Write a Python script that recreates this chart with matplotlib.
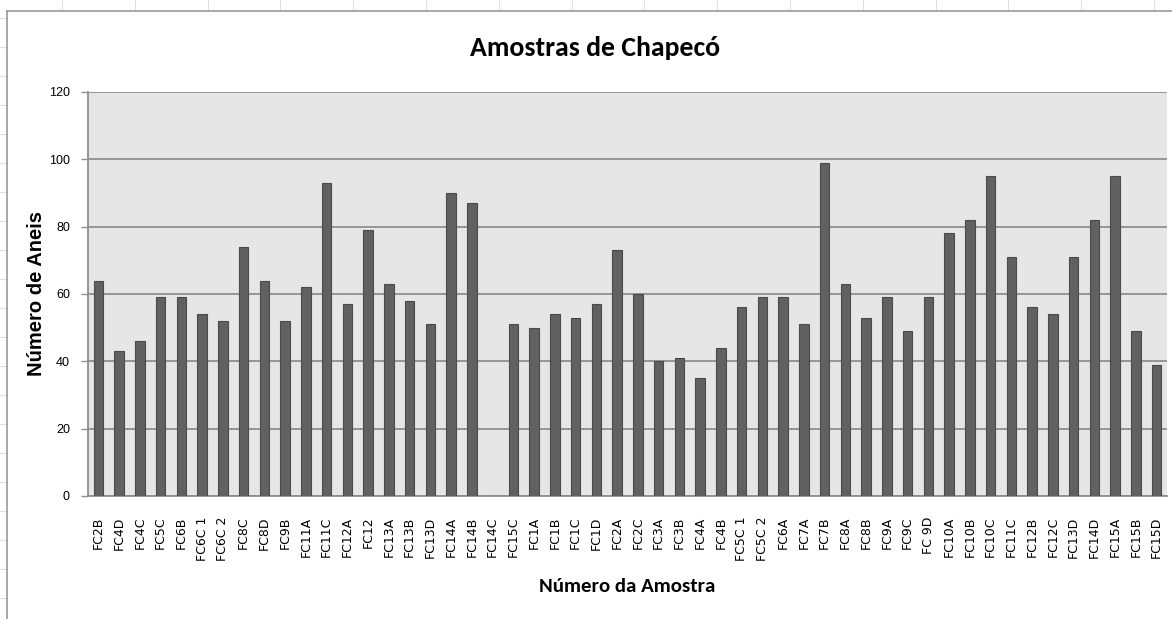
import numpy as np
import matplotlib
matplotlib.use("Agg")
import matplotlib.pyplot as plt
from matplotlib.lines import Line2D

# =============================================================================

samples = ["FC2B", "FC4D", "FC4C", "FC5C", "FC6B", "FC6C 1", "FC6C 2", "FC8C",
           "FC8D", "FC9B", "FC11A", "FC11C", "FC12A", "FC12", "FC13A", "FC13B",
           "FC13D", "FC14A", "FC14B", "FC14C", "FC15C", "FC1A", "FC1B", "FC1C",
           "FC1D", "FC2A", "FC2C", "FC3A", "FC3B", "FC4A", "FC4B", "FC5C 1",
           "FC5C 2", "FC6A", "FC7A", "FC7B", "FC8A", "FC8B", "FC9A", "FC9C",
           "FC 9D", "FC10A", "FC10B", "FC10C", "FC11C", "FC12B", "FC12C",
           "FC13D", "FC14D", "FC15A", "FC15B", "FC15D"]

rings = [64, 43, 46, 59, 59, 54, 52, 74,
         64, 52, 62, 93, 57, 79, 63, 58,
         51, 90, 87, 0, 51, 50, 54, 53,
         57, 73, 60, 40, 41, 35, 44, 56,
         59, 59, 51, 99, 63, 53, 59, 49,
         59, 78, 82, 95, 71, 56, 54,
         71, 82, 95, 49, 39]

yticks = [0, 20, 40, 60, 80, 100, 120]

# =============================================================================

W, H = 1172, 619
fig = plt.figure(figsize=(W / 100, H / 100), dpi=100)

narrow = ["Carlito", "Liberation Sans Narrow", "Archivo Narrow", "Liberation Sans"]
arial = ["Liberation Sans", "DejaVu Sans"]

# faint spreadsheet cell lines and chart frame
for xp in np.arange(62, W, 72.8):
    fig.add_artist(Line2D([xp / W, xp / W], [1, 1 - 11 / H],
                          color="#e0e0e0", lw=0.8))
for yp in np.arange(18, H, 29):
    fig.add_artist(Line2D([0, 7 / W], [1 - yp / H, 1 - yp / H],
                          color="#e0e0e0", lw=0.8))
fig.add_artist(Line2D([7 / W, 7 / W], [0, 1 - 11 / H], color="#9a9a9a", lw=1.2))
fig.add_artist(Line2D([7 / W, 1], [1 - 11 / H, 1 - 11 / H], color="#9a9a9a", lw=1.2))

left, right, top, bottom = 88, 1167, 92, 496
ax = fig.add_axes([left / W, 1 - bottom / H, (right - left) / W, (bottom - top) / H])
ax.set_facecolor("#e6e6e6")

x = np.arange(len(samples))
ax.bar(x, rings, width=0.45, color="#616161", edgecolor="#4a4a4a",
       linewidth=0.8, zorder=3)

ax.set_xlim(-0.5, len(samples) - 0.5)
ax.set_ylim(0, 120)
ax.set_yticks(yticks)
ax.yaxis.grid(True, color="#8f8f8f", lw=1.3, zorder=1)
ax.set_axisbelow(True)

ax.set_xticks(x)
ax.set_xticklabels(samples, rotation=90, fontsize=9, family="DejaVu Sans",
                   va="top", ha="center")
ax.tick_params(axis="x", length=0, pad=15)
ax.tick_params(axis="y", length=5, width=1, color="#8f8f8f", pad=8,
               labelsize=9)
for lab in ax.get_yticklabels():
    lab.set_family(arial)

for s in ["top", "right"]:
    ax.spines[s].set_visible(False)
ax.spines["left"].set_color("#8f8f8f")
ax.spines["bottom"].set_color("#8f8f8f")
ax.spines["left"].set_linewidth(1.3)
ax.spines["bottom"].set_linewidth(1.3)

fig.text(595 / W, 1 - 48 / H, "Amostras de Chapecó", ha="center", va="center",
         fontsize=20, fontweight="bold", family=narrow)
fig.text(627 / W, 1 - 587 / H, "Número da Amostra", ha="center", va="center",
         fontsize=15, fontweight="bold", family=narrow)
fig.text(37 / W, 1 - 294 / H, "Número de Aneis", ha="center", va="center",
         rotation=90, fontsize=14.5, fontweight="bold", family=arial)

fig.savefig("out.png", dpi=100)
